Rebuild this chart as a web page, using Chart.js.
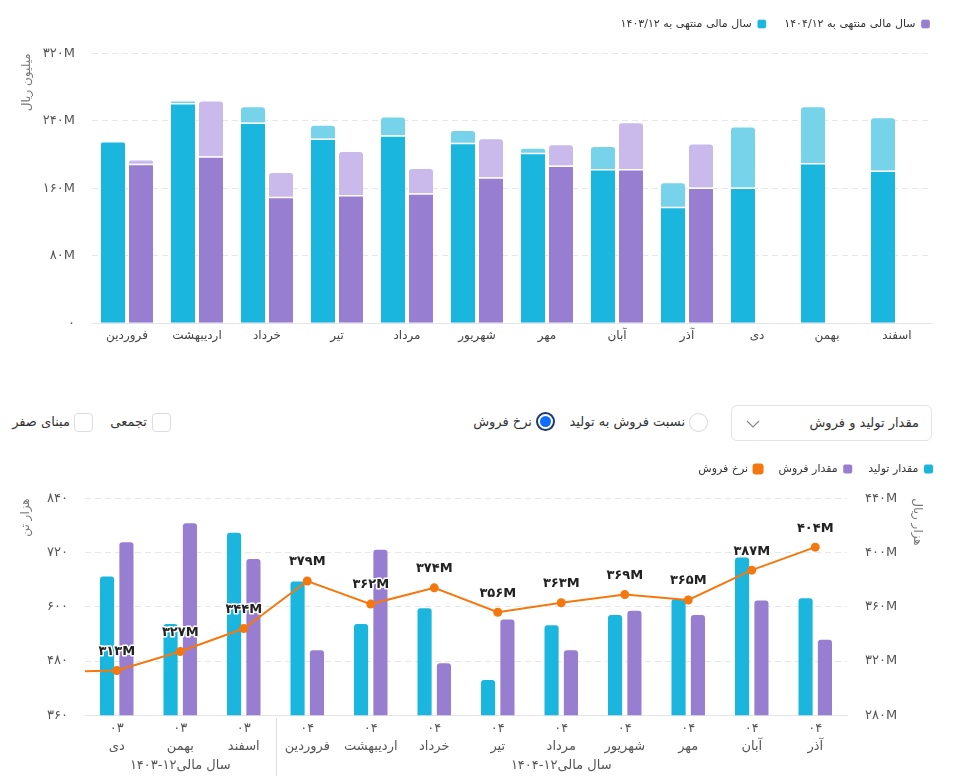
<!DOCTYPE html>
<html lang="fa">
<head>
<meta charset="utf-8">
<title>تولید و فروش</title>
<script src="https://cdn.jsdelivr.net/npm/chart.js@4.4.0/dist/chart.umd.min.js"></script>
<style>
    body { margin: 0; background: #fff; font-family: 'DejaVu Sans', sans-serif; color: #333; }
    .page { position: relative; width: 964px; height: 776px; overflow: hidden; }
    canvas { position: absolute; left: 0; }
    #topChart { top: 0; }
    #bottomChart { top: 445px; }
    .select { position: absolute; left: 731px; top: 405px; width: 199px; height: 34px; border: 1px solid #e2e2e8; border-radius: 6px; }
    .select span { position: absolute; right: 12px; top: 0; line-height: 34px; font-size: 13px; direction: rtl; white-space: nowrap; }
    .select svg { position: absolute; left: 14px; top: 14px; }
    .lbl { position: absolute; top: 412px; font-size: 13px; line-height: 20px; direction: rtl; white-space: nowrap; color: #333; }
    .radio { position: absolute; width: 19px; height: 19px; border-radius: 50%; border: 1px solid #d8d8de; box-sizing: border-box; }
    .radio.on { border: 2px solid #1d3a6e; }
    .radio.on::after { content: ''; position: absolute; left: 2px; top: 2px; width: 11px; height: 11px; border-radius: 50%; background: #0d6efd; }
    .check { position: absolute; top: 413px; width: 19px; height: 19px; border: 1px solid #dcdce2; border-radius: 4px; box-sizing: border-box; }
</style>
</head>
<body>
<div class="page">
    <canvas id="topChart" width="964" height="360"></canvas>

    <div class="select">
        <span>مقدار تولید و فروش</span>
        <svg width="14" height="8" viewBox="0 0 14 8"><polyline points="1,1 7,7 13,1" fill="none" stroke="#888" stroke-width="1.2"/></svg>
    </div>
    <div class="radio" style="left:689px; top:413px;"></div>
    <div class="lbl" style="right:279px;">نسبت فروش به تولید</div>
    <div class="radio on" style="left:536px; top:412px;"></div>
    <div class="lbl" style="right:432px;">نرخ فروش</div>
    <div class="check" style="left:152px;"></div>
    <div class="lbl" style="right:817px;">تجمعی</div>
    <div class="check" style="left:74px;"></div>
    <div class="lbl" style="right:894px;">مبنای صفر</div>

    <canvas id="bottomChart" width="964" height="331"></canvas>
</div>
<script>
// top chart: monthly amounts, million rials
const topMonths = ['فروردین', 'اردیبهشت', 'خرداد', 'تیر', 'مرداد', 'شهریور', 'مهر', 'آبان', 'آذر', 'دی', 'بهمن', 'اسفند'];
const fy1403Base = [216, 261, 238, 219, 223, 214, 202, 183, 138, 161, 190, 181];
const fy1403Extra = [0, 2, 18, 15, 21, 14, 5, 26, 28, 71, 66, 62];
const fy1404Base = [189, 198, 150, 152, 154, 173, 187, 183, 161, null, null, null];
const fy1404Extra = [4, 65, 28, 51, 29, 45, 24, 54, 51, null, null, null];
const topTicks = [0, 80, 160, 240, 320];

// bottom chart: first period (آذر ۰۳) sits just left of the visible range
const periodYears = ['۰۳', '۰۳', '۰۳', '۰۳', '۰۴', '۰۴', '۰۴', '۰۴', '۰۴', '۰۴', '۰۴', '۰۴', '۰۴'];
const periodMonths = ['آذر', 'دی', 'بهمن', 'اسفند', 'فروردین', 'اردیبهشت', 'خرداد', 'تیر', 'مرداد', 'شهریور', 'مهر', 'آبان', 'آذر'];
const periodGroup = [0, 0, 0, 0, 1, 1, 1, 1, 1, 1, 1, 1, 1];
const fiscalGroups = ['سال مالی۱۲-۱۴۰۳', 'سال مالی۱۲-۱۴۰۴'];
const production = [null, 667, 562, 764, 656, 562, 597, 438, 559, 582, 617, 709, 619];
const sales = [null, 743, 785, 706, 504, 726, 475, 572, 504, 591, 582, 614, 527];
const salesRate = [312, 313, 327, 344, 379, 362, 374, 356, 363, 369, 365, 387, 404];
const tonTicks = [360, 480, 600, 720, 840];
const rialTicks = [280, 320, 360, 400, 440];

const BLUE = '#1bb6de';
const BLUE_LIGHT = '#76d3ea';
const PURPLE = '#987ed0';
const PURPLE_LIGHT = '#c9baeb';
const ORANGE = '#f5780f';
const GRID = '#e6e6ec';
const FONT = "'DejaVu Sans', sans-serif";

Chart.defaults.font.family = FONT;
Chart.defaults.color = '#555';

function toFa (value) {
    return String(value).replace(/\d/g, d => '۰۱۲۳۴۵۶۷۸۹'[d]);
}

// push the plot down below the legend
function legendGap (extra) {
    return {
        id: 'legendGap',
        beforeInit (chart) {
            const fit = chart.legend.fit;
            chart.legend.fit = function () {
                fit.bind(chart.legend)();
                this.height += extra;
            };
        }
    };
}

const rateLabels = {
    id: 'rateLabels',
    afterDatasetsDraw (chart) {
        const { ctx, chartArea } = chart;
        const meta = chart.getDatasetMeta(2);
        ctx.save();
        ctx.font = 'bold 13px ' + FONT;
        ctx.textAlign = 'center';
        ctx.textBaseline = 'middle';
        ctx.lineJoin = 'round';
        meta.data.forEach((pt, i) => {
            if (pt.x < chartArea.left || pt.x > chartArea.right) return;
            const txt = toFa(salesRate[i]) + 'M';
            ctx.lineWidth = 3;
            ctx.strokeStyle = '#fff';
            ctx.strokeText(txt, pt.x, pt.y - 19);
            ctx.fillStyle = '#222';
            ctx.fillText(txt, pt.x, pt.y - 19);
        });
        ctx.restore();
    }
};

const fiscalGroupLabels = {
    id: 'fiscalGroupLabels',
    afterDraw (chart) {
        const { ctx, chartArea } = chart;
        const x = chart.scales.x;
        ctx.save();
        ctx.font = '13px ' + FONT;
        ctx.fillStyle = '#555';
        ctx.textAlign = 'center';
        ctx.textBaseline = 'middle';
        fiscalGroups.forEach((label, g) => {
            const idx = [];
            periodGroup.forEach((pg, i) => {
                if (pg === g && i >= x.min && i <= x.max) idx.push(i);
            });
            if (!idx.length) return;
            const x0 = x.getPixelForValue(idx[0]);
            const x1 = x.getPixelForValue(idx[idx.length - 1]);
            ctx.fillText(label, (x0 + x1) / 2, chartArea.bottom + 50);
            if (g > 0) {
                const sep = Math.round((x.getPixelForValue(idx[0] - 1) + x0) / 2) + 0.5;
                ctx.strokeStyle = '#dcdce2';
                ctx.lineWidth = 1;
                ctx.beginPath();
                ctx.moveTo(sep, chartArea.bottom + 3);
                ctx.lineTo(sep, chart.height);
                ctx.stroke();
            }
        });
        ctx.restore();
    }
};

const baseRadius = extra => ctx => (extra[ctx.dataIndex] ? 0 : 3);

new Chart(document.getElementById('topChart'), {
    type: 'bar',
    data: {
        labels: topMonths,
        datasets: [{
            label: 'سال مالی منتهی به ۱۴۰۳/۱۲',
            data: fy1403Base,
            backgroundColor: BLUE,
            borderColor: '#fff',
            borderWidth: { top: 1.5, left: 0, right: 0, bottom: 0 },
            borderRadius: baseRadius(fy1403Extra),
            stack: 'fy1403'
        }, {
            label: 'fy1403-extra',
            data: fy1403Extra,
            backgroundColor: BLUE_LIGHT,
            borderRadius: 3,
            stack: 'fy1403'
        }, {
            label: 'سال مالی منتهی به ۱۴۰۴/۱۲',
            data: fy1404Base,
            backgroundColor: PURPLE,
            borderColor: '#fff',
            borderWidth: { top: 1.5, left: 0, right: 0, bottom: 0 },
            borderRadius: baseRadius(fy1404Extra),
            stack: 'fy1404'
        }, {
            label: 'fy1404-extra',
            data: fy1404Extra,
            backgroundColor: PURPLE_LIGHT,
            borderRadius: 3,
            stack: 'fy1404'
        }]
    },
    options: {
        responsive: false,
        animation: false,
        categoryPercentage: 0.8,
        barPercentage: 0.857,
        layout: { padding: { top: 0.5, right: 16, left: 0, bottom: 0 } },
        plugins: {
            legend: {
                position: 'top',
                align: 'start',
                rtl: true,
                reverse: true,
                labels: {
                    filter: item => item.datasetIndex % 2 === 0,
                    boxWidth: 9,
                    boxHeight: 9,
                    useBorderRadius: true,
                    borderRadius: 2,
                    padding: 18,
                    color: '#333',
                    font: { size: 11 }
                }
            },
            tooltip: { enabled: false }
        },
        scales: {
            x: {
                stacked: true,
                grid: { display: false, drawTicks: false },
                border: { color: '#e4e4ea' },
                ticks: { padding: 5.5, color: '#444', font: { size: 12 }, maxRotation: 0, autoSkip: false },
                afterFit: s => { s.height = 36.7; }
            },
            y: {
                stacked: true,
                min: 0,
                max: 320,
                afterBuildTicks: s => { s.ticks = topTicks.map(v => ({ value: v })); },
                ticks: {
                    padding: 17,
                    color: '#555',
                    font: { size: 13 },
                    callback: v => (v === 0 ? '۰' : toFa(v) + 'M')
                },
                grid: { color: GRID, drawTicks: false },
                border: { display: false, dash: [6, 4] },
                title: { display: true, text: 'میلیون ریال', align: 'end', color: '#777', font: { size: 12 }, padding: { top: 20, bottom: 0 } },
                afterFit: s => { s.width = 92; }
            },
            edge: {
                position: 'right',
                grid: { display: false, drawTicks: false },
                border: { display: false },
                ticks: { display: false },
                afterFit: s => { s.width = 16; }
            }
        }
    },
    plugins: [legendGap(13.8)]
});

new Chart(document.getElementById('bottomChart'), {
    data: {
        labels: periodMonths.map((m, i) => [periodYears[i], m]),
        datasets: [{
            type: 'bar',
            label: 'مقدار تولید',
            data: production,
            backgroundColor: BLUE,
            borderRadius: 3,
            yAxisID: 'y',
            order: 1
        }, {
            type: 'bar',
            label: 'مقدار فروش',
            data: sales,
            backgroundColor: PURPLE,
            borderRadius: 3,
            yAxisID: 'y',
            order: 1
        }, {
            type: 'line',
            label: 'نرخ فروش',
            data: salesRate,
            borderColor: ORANGE,
            backgroundColor: ORANGE,
            borderWidth: 2,
            pointRadius: 4.5,
            pointBorderWidth: 0,
            pointBackgroundColor: ORANGE,
            tension: 0,
            yAxisID: 'y1',
            order: 0,
            clip: { left: 0, top: false, right: false, bottom: false }
        }]
    },
    options: {
        responsive: false,
        animation: false,
        categoryPercentage: 0.61,
        barPercentage: 0.73,
        layout: { padding: { top: 2.5, right: 15, left: 0, bottom: 0 } },
        plugins: {
            legend: {
                position: 'top',
                align: 'start',
                rtl: true,
                labels: {
                    sort: (a, b) => a.datasetIndex - b.datasetIndex,
                    boxWidth: 9,
                    boxHeight: 9,
                    useBorderRadius: true,
                    borderRadius: 2,
                    padding: 16,
                    color: '#333',
                    font: { size: 11 }
                }
            },
            tooltip: { enabled: false }
        },
        scales: {
            x: {
                min: 1,
                grid: { display: false, drawTicks: false },
                border: { color: '#e4e4ea' },
                ticks: { padding: 4, color: '#555', font: { size: 13, lineHeight: 1.4 }, maxRotation: 0, autoSkip: false },
                afterFit: s => { s.height = 60.7; }
            },
            y: {
                position: 'left',
                min: 360,
                max: 840,
                afterBuildTicks: s => { s.ticks = tonTicks.map(v => ({ value: v })); },
                ticks: { padding: 17, color: '#555', font: { size: 13 }, callback: v => toFa(v) },
                grid: { color: GRID, drawTicks: false },
                border: { display: false, dash: [6, 4] },
                title: { display: true, text: 'هزار تن', align: 'end', color: '#777', font: { size: 12 }, padding: { top: 19, bottom: 0 } },
                afterFit: s => { s.width = 85; }
            },
            y1: {
                position: 'right',
                min: 280,
                max: 440,
                afterBuildTicks: s => { s.ticks = rialTicks.map(v => ({ value: v })); },
                ticks: { padding: 18, color: '#555', font: { size: 13 }, callback: v => toFa(v) + 'M' },
                grid: { display: false, drawTicks: false },
                border: { display: false },
                title: { display: true, text: 'هزار ریال', align: 'end', color: '#777', font: { size: 12 }, padding: { top: 25, bottom: 0 } },
                afterFit: s => { s.width = 102; }
            }
        }
    },
    plugins: [legendGap(13.8), rateLabels, fiscalGroupLabels]
});
</script>
</body>
</html>
